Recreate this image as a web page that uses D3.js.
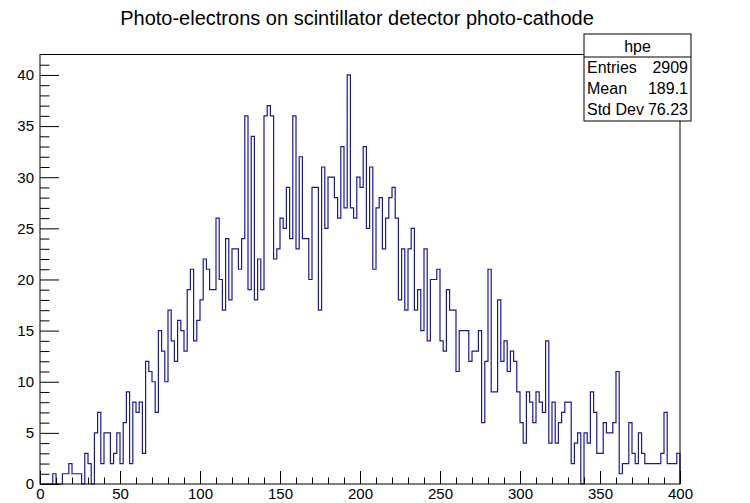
<!DOCTYPE html>
<html>
<head>
<meta charset="utf-8">
<script src="https://cdn.jsdelivr.net/npm/d3@7"></script>
<style>
  body { margin: 0; background: #fff; }
  svg { display: block; font-family: "Liberation Sans", Arial, Helvetica, sans-serif; }
</style>
</head>
<body>
<svg id="chart" width="750" height="503"></svg>
<script>
const title = "Photo-electrons on scintillator detector photo-cathode";
const histName = "hpe";
const binWidth = 2;
const xDomain = [0, 400];
const yDomain = [0, 42];
// counts per bin (200 bins of width 2)
const counts = [
  0, 0, 0, 0, 1, 0, 0, 1, 1, 2, 1, 1, 1, 0, 3, 2, 0, 5, 7, 2,
  5, 5, 2, 3, 5, 2, 6, 9, 2, 8, 7, 8, 3, 12, 11, 10, 7, 15, 13, 10,
  17, 14, 12, 16, 15, 13, 19, 21, 14, 16, 18, 22, 21, 19, 19, 26, 20, 17, 24, 18,
  23, 23, 21, 24, 36, 19, 34, 18, 22, 19, 36, 37, 36, 22, 23, 26, 25, 29, 24, 36,
  23, 32, 24, 24, 20, 29, 29, 17, 31, 25, 30, 30, 28, 26, 33, 27, 40, 27, 26, 30,
  29, 33, 25, 31, 21, 27, 28, 23, 26, 28, 29, 26, 18, 23, 17, 23, 25, 17, 19, 15,
  23, 14, 20, 20, 21, 14, 13, 19, 17, 17, 11, 15, 15, 15, 12, 13, 13, 15, 6, 12,
  21, 9, 9, 18, 12, 14, 11, 13, 12, 9, 6, 4, 9, 8, 6, 9, 8, 7, 14, 4,
  8, 4, 6, 7, 8, 8, 2, 4, 5, 0, 5, 4, 9, 7, 3, 3, 6, 5, 5, 6,
  11, 1, 2, 2, 6, 3, 2, 5, 3, 2, 2, 2, 2, 2, 3, 7, 2, 2, 2, 3
];
const xMajorTicks = [0, 50, 100, 150, 200, 250, 300, 350, 400];
const yMajorTicks = [0, 5, 10, 15, 20, 25, 30, 35, 40];
const statLabels = ["Entries", "Mean", "Std Dev"];
const statValues = ["2909", "189.1", "76.23"];

const svg = d3.select("#chart");
const frame = { left: 40, right: 680, top: 54.5, bottom: 484 };

const x = d3.scaleLinear().domain(xDomain).range([frame.left, frame.right]);
const y = d3.scaleLinear().domain(yDomain).range([frame.bottom, frame.top]);

// title
svg.append("text")
  .attr("x", 357).attr("y", 25)
  .attr("text-anchor", "middle")
  .style("font-size", "20px")
  .text(title);

// histogram outline, step style like ROOT
const pts = [{ e: xDomain[0], v: 0 }];
counts.forEach((c, i) => pts.push({ e: xDomain[0] + i * binWidth, v: c }));
pts.push({ e: xDomain[1], v: counts[counts.length - 1] });
pts.push({ e: xDomain[1], v: 0 });

const line = d3.line()
  .x(d => x(d.e))
  .y(d => y(d.v))
  .curve(d3.curveStepAfter);

svg.append("path")
  .datum(pts)
  .attr("d", line)
  .attr("fill", "none")
  .attr("stroke", "#1a1a8c")
  .attr("stroke-width", 1.2);

// axes, ticks inside the frame
svg.append("g")
  .attr("transform", `translate(0,${frame.bottom})`)
  .call(d3.axisBottom(x).tickValues(xMajorTicks).tickSize(-13).tickPadding(4).tickFormat(d3.format("d")));
svg.append("g")
  .attr("transform", `translate(0,${frame.bottom})`)
  .call(d3.axisBottom(x).tickValues(d3.range(0, 401, 10).filter(v => v % 50)).tickSize(-6.5).tickFormat(""));

svg.append("g")
  .attr("transform", `translate(${frame.left},0)`)
  .call(d3.axisLeft(y).tickValues(yMajorTicks).tickSize(-19).tickPadding(6).tickFormat(d3.format("d")));
svg.append("g")
  .attr("transform", `translate(${frame.left},0)`)
  .call(d3.axisLeft(y).tickValues(d3.range(0, 42, 1).filter(v => v % 5)).tickSize(-9.5).tickFormat(""));

svg.selectAll(".domain").remove();
svg.selectAll(".tick line").attr("stroke", "#000");
svg.selectAll(".tick text").style("font-size", "15px").attr("fill", "#000");

// frame
svg.append("rect")
  .attr("x", frame.left).attr("y", frame.top)
  .attr("width", frame.right - frame.left).attr("height", frame.bottom - frame.top)
  .attr("fill", "none").attr("stroke", "#000");

// stats box
const box = { x: 584, y: 34, w: 107, h: 87, head: 23 };
const stats = svg.append("g");
stats.append("rect")
  .attr("x", box.x).attr("y", box.y).attr("width", box.w).attr("height", box.h)
  .attr("fill", "#fff").attr("stroke", "#000");
stats.append("line")
  .attr("x1", box.x).attr("x2", box.x + box.w)
  .attr("y1", box.y + box.head).attr("y2", box.y + box.head)
  .attr("stroke", "#000");
stats.append("text")
  .attr("x", box.x + box.w / 2).attr("y", box.y + 18)
  .attr("text-anchor", "middle").style("font-size", "16px")
  .text(histName);
statLabels.forEach((lab, i) => {
  const yy = box.y + box.head + 16 + i * 21;
  stats.append("text").attr("x", box.x + 3).attr("y", yy)
    .style("font-size", "16px").text(lab);
  stats.append("text").attr("x", box.x + box.w - 3).attr("y", yy)
    .attr("text-anchor", "end").style("font-size", "16px").text(statValues[i]);
});
</script>
</body>
</html>
